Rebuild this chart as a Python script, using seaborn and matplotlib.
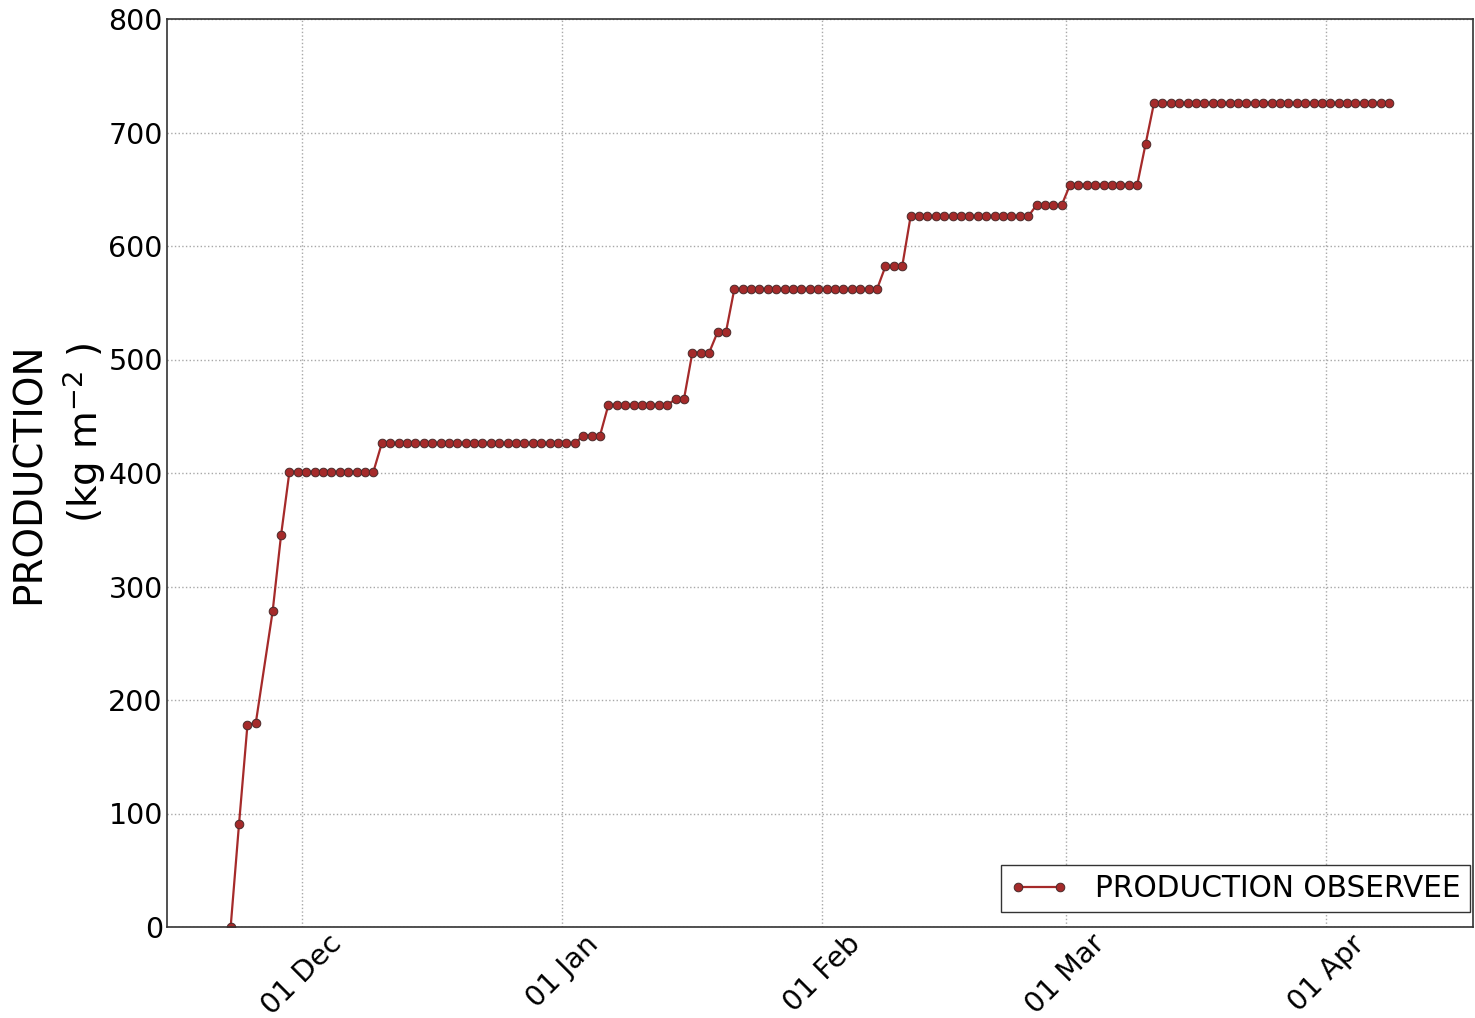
import matplotlib
matplotlib.use("Agg")
import matplotlib.pyplot as plt
import matplotlib.dates as mdates
import numpy as np
import pandas as pd
import seaborn as sns

# Observation days (one reading per day at noon; 26 Nov is missing)
first_day = "2015-11-22 12:00"
last_day = "2016-04-08 12:00"
missing_days = ["2015-11-26 12:00"]

# Cumulative observed production (kg m-2), one value per observation day
production = [
    0, 91, 178, 180, 278, 345,
    401, 401, 401, 401, 401, 401, 401, 401, 401, 401, 401,
    426, 426, 426, 426, 426, 426, 426, 426, 426, 426, 426, 426,
    426, 426, 426, 426, 426, 426, 426, 426, 426, 426, 426, 426,
    433, 433, 433,
    460, 460, 460, 460, 460, 460, 460, 460,
    465, 465,
    506, 506, 506,
    524, 524,
    562, 562, 562, 562, 562, 562, 562, 562, 562,
    562, 562, 562, 562, 562, 562, 562, 562, 562,
    582, 582, 582,
    626, 626, 626, 626, 626, 626, 626, 626, 626, 626, 626, 626, 626, 626, 626,
    636, 636, 636, 636,
    654, 654, 654, 654, 654, 654, 654, 654, 654,
    690,
    726, 726, 726, 726, 726, 726, 726, 726, 726, 726,
    726, 726, 726, 726, 726, 726, 726, 726, 726, 726,
    726, 726, 726, 726, 726, 726, 726, 726, 726,
]

series_label = "PRODUCTION OBSERVEE"
y_label = "PRODUCTION\n(kg m$^{-2}$ )"
y_ticks = [0, 100, 200, 300, 400, 500, 600, 700, 800]
x_ticks = ["2015-12-01", "2016-01-01", "2016-02-01", "2016-03-01", "2016-04-01"]
x_range = ["2015-11-14 22:00", "2016-04-18 12:00"]

days = pd.date_range(first_day, last_day, freq="D")
days = days[~days.isin(pd.to_datetime(missing_days))]
df = pd.DataFrame({"date": days, "production": production})

sns.set_style("whitegrid")
plt.rcParams["font.family"] = ["DejaVu Sans"]
plt.rcParams["text.color"] = "black"

W, H = 1475, 1018
fig = plt.figure(figsize=(W / 100, H / 100), dpi=100)
ax = fig.add_axes([167 / W, 1 - 927 / H, (1473 - 167) / W, (927 - 19) / H])

sns.lineplot(
    data=df, x="date", y="production", ax=ax,
    color="#A52A2A", linewidth=1.6,
    marker="o", markersize=6.2,
    markerfacecolor="#A52A2A", markeredgecolor="#4a2a2a", markeredgewidth=0.7,
    label=series_label,
)

ax.set_ylim(0, 800)
ax.set_yticks(y_ticks)
ax.set_xlim(pd.to_datetime(x_range[0]), pd.to_datetime(x_range[1]))
ax.set_xticks(pd.to_datetime(x_ticks))
ax.xaxis.set_major_formatter(mdates.DateFormatter("%d %b"))

ax.grid(True, linestyle=":", color="#a8a8a8", linewidth=1.0)
ax.tick_params(axis="y", labelsize=20.5, length=0, pad=3, colors="black")
ax.tick_params(axis="x", labelsize=20.5, length=0, pad=2, colors="black")
for lbl in ax.get_xticklabels():
    lbl.set_rotation(45)
    lbl.set_ha("center")

for side in ["left", "right", "top", "bottom"]:
    ax.spines[side].set_visible(True)
    ax.spines[side].set_color("#333333")
    ax.spines[side].set_linewidth(1.2)

ax.set_xlabel("")
ax.set_ylabel(y_label, fontsize=28, labelpad=0, linespacing=1.35,
              color="black", multialignment="right")

# legend anchored to the lower right corner of the plotting area
anchor = ax.transAxes.inverted().transform(fig.transFigure.transform((1470 / W, 1 - 912 / H)))
leg = ax.legend(
    loc="lower right", bbox_to_anchor=(anchor[0], anchor[1]),
    fontsize=21.3, frameon=True, fancybox=False,
    numpoints=2, handlelength=2.0, borderaxespad=0.0, borderpad=0.3,
    handletextpad=0.9,
)
for t in leg.get_texts():
    t.set_color("black")
leg.get_frame().set_edgecolor("#333333")
leg.get_frame().set_linewidth(1.0)
leg.get_frame().set_alpha(1.0)

fig.savefig("out.png", dpi=100)
